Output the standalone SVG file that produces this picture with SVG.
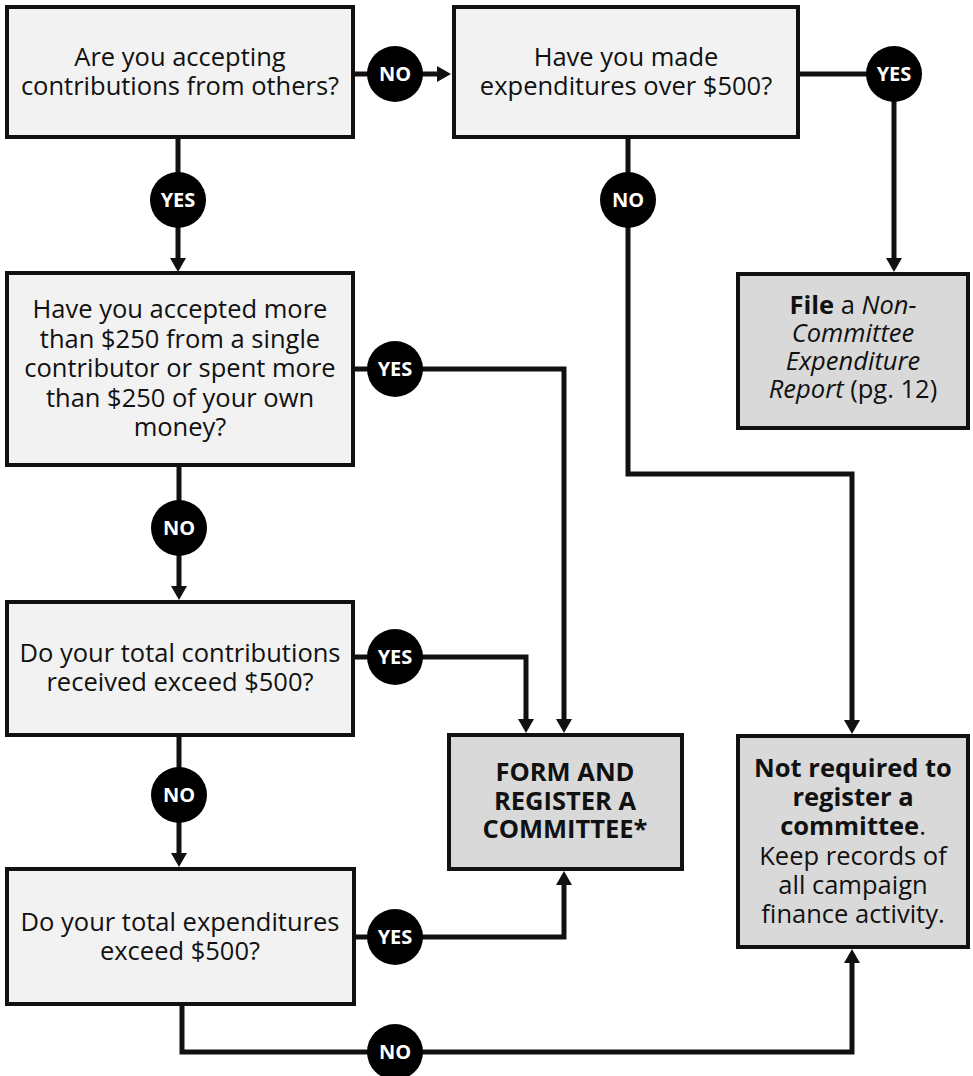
<svg xmlns="http://www.w3.org/2000/svg" width="973" height="1076" viewBox="0 0 973 1076">
<style>
  .q{fill:#f2f2f2;stroke:#111;stroke-width:4}
  .r{fill:#d9d9d9;stroke:#111;stroke-width:4}
  .t{font-family:"Open Sans","Noto Sans","Liberation Sans",sans-serif;font-size:25.5px;fill:#111;text-anchor:middle}
  .b{font-weight:700}
  .i{font-style:italic}
  .c{stroke:#111;stroke-width:5;fill:none}
  .lc{fill:#000}
  .lt{font-family:"Open Sans","Noto Sans","Liberation Sans",sans-serif;font-size:20px;font-weight:700;fill:#fff;text-anchor:middle}
</style>
<defs>
  <marker id="ah" viewBox="0 0 14 16" refX="0" refY="8" markerWidth="14" markerHeight="16" markerUnits="userSpaceOnUse" orient="auto">
    <path d="M0,0 L14,8 L0,16 z" fill="#111"/>
  </marker>
</defs>
<g id="connectors">
  <path class="c" d="M355,74 H437" marker-end="url(#ah)"/>
  <path class="c" d="M178,139 V258" marker-end="url(#ah)"/>
  <path class="c" d="M800,74 H894 V258" marker-end="url(#ah)"/>
  <path class="c" d="M628,139 V474 H852 V720" marker-end="url(#ah)"/>
  <path class="c" d="M355,369 H564 V719" marker-end="url(#ah)"/>
  <path class="c" d="M179,467 V586" marker-end="url(#ah)"/>
  <path class="c" d="M355,657 H526 V719" marker-end="url(#ah)"/>
  <path class="c" d="M179,737 V853" marker-end="url(#ah)"/>
  <path class="c" d="M356,937 H564 V885" marker-end="url(#ah)"/>
  <path class="c" d="M182,1006 V1052 H852 V963" marker-end="url(#ah)"/>
  <g id="labels">
    <circle class="lc" cx="395" cy="74" r="28"/><text class="lt" x="395" y="81">NO</text>
    <circle class="lc" cx="178" cy="200" r="28"/><text class="lt" x="178" y="207">YES</text>
    <circle class="lc" cx="894" cy="74" r="28"/><text class="lt" x="894" y="81">YES</text>
    <circle class="lc" cx="628" cy="200" r="28"/><text class="lt" x="628" y="207">NO</text>
    <circle class="lc" cx="395" cy="369" r="28"/><text class="lt" x="395" y="376">YES</text>
    <circle class="lc" cx="179" cy="528" r="28"/><text class="lt" x="179" y="535">NO</text>
    <circle class="lc" cx="395" cy="657" r="28"/><text class="lt" x="395" y="664">YES</text>
    <circle class="lc" cx="179" cy="795" r="28"/><text class="lt" x="179" y="802">NO</text>
    <circle class="lc" cx="395" cy="937" r="28"/><text class="lt" x="395" y="944">YES</text>
    <circle class="lc" cx="395" cy="1052" r="28"/><text class="lt" x="395" y="1059">NO</text>
  </g>
</g>
<g id="q1">
  <rect class="q" x="7" y="7" width="346" height="130"/>
  <text class="t" x="180" y="66">Are you accepting</text>
  <text class="t" x="180" y="95">contributions from others?</text>
</g>
<g id="q2">
  <rect class="q" x="454" y="7" width="344" height="130"/>
  <text class="t" x="626" y="66">Have you made</text>
  <text class="t" x="626" y="95">expenditures over $500?</text>
</g>
<g id="q3">
  <rect class="q" x="7" y="273" width="346" height="192"/>
  <text class="t" x="180" y="318">Have you accepted more</text>
  <text class="t" x="180" y="348">than $250 from a single</text>
  <text class="t" x="180" y="377">contributor or spent more</text>
  <text class="t" x="180" y="407">than $250 of your own</text>
  <text class="t" x="180" y="436">money?</text>
</g>
<g id="q4">
  <rect class="q" x="7" y="602" width="346" height="133"/>
  <text class="t" x="180" y="662">Do your total contributions</text>
  <text class="t" x="180" y="691">received exceed $500?</text>
</g>
<g id="q5">
  <rect class="q" x="7" y="869" width="347" height="135"/>
  <text class="t" x="180" y="931">Do your total expenditures</text>
  <text class="t" x="180" y="960">exceed $500?</text>
</g>
<g id="form">
  <rect class="r" x="449" y="735" width="233" height="134"/>
  <text class="t b" x="565" y="781">FORM AND</text>
  <text class="t b" x="565" y="810">REGISTER A</text>
  <text class="t b" x="565" y="838">COMMITTEE*</text>
</g>
<g id="file">
  <rect class="r" x="738" y="274" width="230" height="154"/>
  <text class="t" x="853" y="314"><tspan class="b">File</tspan> a <tspan class="i">Non-</tspan></text>
  <text class="t i" x="853" y="342">Committee</text>
  <text class="t i" x="853" y="370">Expenditure</text>
  <text class="t" x="853" y="398"><tspan class="i">Report</tspan> (pg. 12)</text>
</g>
<g id="notreq">
  <rect class="r" x="738" y="736" width="230" height="211"/>
  <text class="t b" x="853" y="777">Not required to</text>
  <text class="t b" x="853" y="806">register a</text>
  <text class="t" x="853" y="835"><tspan class="b">committee</tspan>.</text>
  <text class="t" x="853" y="865">Keep records of</text>
  <text class="t" x="853" y="894">all campaign</text>
  <text class="t" x="853" y="923">finance activity.</text>
</g>
</svg>
